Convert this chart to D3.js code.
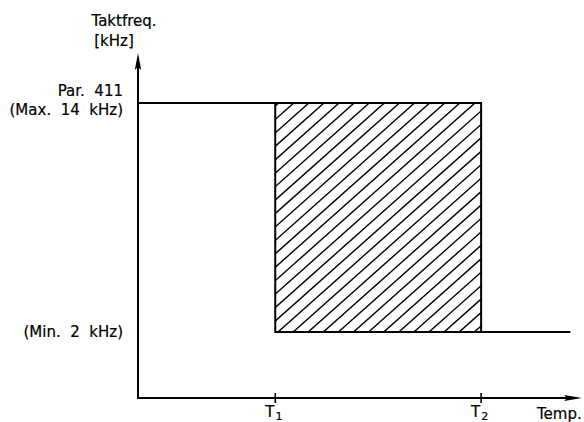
<!DOCTYPE html>
<html><head><meta charset="utf-8">
<script src="https://cdn.jsdelivr.net/npm/d3@7"></script>
<style>
html,body{margin:0;padding:0;background:#fff;}
text{font-family:"DejaVu Sans",sans-serif;fill:#000;stroke:#000;stroke-width:0.2;white-space:pre;}
</style></head>
<body>
<script>
// ---- data ----
const timeMarks = [{name:"T", sub:"1", t:2}, {name:"T", sub:"2", t:5}];
const lineEndT = 6.3;
const xAxisEndT = 6.47;
const yLabels = [
  {lines:["Par.  411","(Max.  14  kHz)"], f:14, dy:[-7,12]},
  {lines:["(Min.  2  kHz)"], f:2, dy:[5]}
];
const yTitle = ["Taktfreq.","[kHz]"];
const xTitle = "Temp.";
// freq curve: max until T2, then min from T1; hatched region T1..T2
const curveMax = [{t:0,f:14},{t:5,f:14}];
const curveMin = [{t:2,f:2},{t:lineEndT,f:2}];
const hatchArea = {t0:2, t1:5, f0:2, f1:14};

const W=584,H=422;
const svg=d3.select("body").append("svg").attr("width",W).attr("height",H);
const x=d3.scaleLinear().domain([0,xAxisEndT]).range([138,582]);
const y=d3.scaleLinear().domain([2,14]).range([332,103]);
const yBase=398, yTop=53;

// hatch clip
const defs=svg.append("defs");
const rx0=x(hatchArea.t0), rx1=x(hatchArea.t1), ry0=y(hatchArea.f1), ry1=y(hatchArea.f0);
defs.append("clipPath").attr("id","hc").append("rect")
  .attr("x",rx0).attr("y",ry0).attr("width",rx1-rx0).attr("height",ry1-ry0);
const g=svg.append("g").attr("clip-path","url(#hc)");
const slope=0.89, step=15.1;
const hatchStarts=d3.range(rx0-(ry1-ry0)/slope-step, rx1+step, step);
g.selectAll("line").data(hatchStarts).join("line")
  .attr("x1",d=>d).attr("y1",ry1+3)
  .attr("x2",d=>d+(ry1-ry0+6)/slope).attr("y2",ry0-3)
  .attr("stroke","#000").attr("stroke-width",1.4);

// rect outline
svg.append("rect").attr("x",rx0).attr("y",ry0).attr("width",rx1-rx0).attr("height",ry1-ry0)
  .attr("fill","none").attr("stroke","#000").attr("stroke-width",2);

const line=d3.line().x(d=>x(d.t)).y(d=>y(d.f));
[curveMax,curveMin].forEach(c=>svg.append("path").attr("d",line(c))
  .attr("fill","none").attr("stroke","#000").attr("stroke-width",2));

// axes
svg.append("line").attr("x1",x(0)).attr("y1",yBase).attr("x2",x(0)).attr("y2",yTop+8)
  .attr("stroke","#000").attr("stroke-width",2);
svg.append("path").attr("d",`M${x(0)},${yTop} L${x(0)-3.2},${yTop+17} L${x(0)},${yTop+14} L${x(0)+3.2},${yTop+17} Z`).attr("fill","#000");
const xe=x(xAxisEndT);
svg.append("line").attr("x1",x(0)-1).attr("y1",yBase).attr("x2",xe-8).attr("y2",yBase)
  .attr("stroke","#000").attr("stroke-width",2);
svg.append("path").attr("d",`M${xe},${yBase} L${xe-18},${yBase-3} L${xe-15},${yBase} L${xe-18},${yBase+3} Z`).attr("fill","#000");

// ticks
svg.selectAll(".tk").data(timeMarks).join("line").attr("class","tk")
  .attr("x1",d=>x(d.t)).attr("x2",d=>x(d.t)).attr("y1",yBase-5).attr("y2",yBase+5)
  .attr("stroke","#000").attr("stroke-width",1.6);
const tl=svg.selectAll(".tl").data(timeMarks).join("text").attr("class","tl")
  .attr("x",d=>x(d.t)-10).attr("y",417).attr("font-size",15);
tl.append("tspan").text(d=>d.name);
tl.append("tspan").attr("dx",1).attr("dy",3).attr("font-size",11).text(d=>d.sub);

svg.append("text").attr("x",537).attr("y",419).attr("font-size",15).text(xTitle);

// y labels
yLabels.forEach(l=>{
  l.lines.forEach((s,i)=>{
    svg.append("text").attr("x",123).attr("y",y(l.f)+l.dy[i])
      .attr("text-anchor","end").attr("font-size",15).text(s);
  });
});
svg.append("text").attr("x",124).attr("y",26).attr("text-anchor","middle").attr("font-size",15).text(yTitle[0]);
svg.append("text").attr("x",114).attr("y",46).attr("text-anchor","middle").attr("font-size",15).text(yTitle[1]);
</script>
</body></html>
